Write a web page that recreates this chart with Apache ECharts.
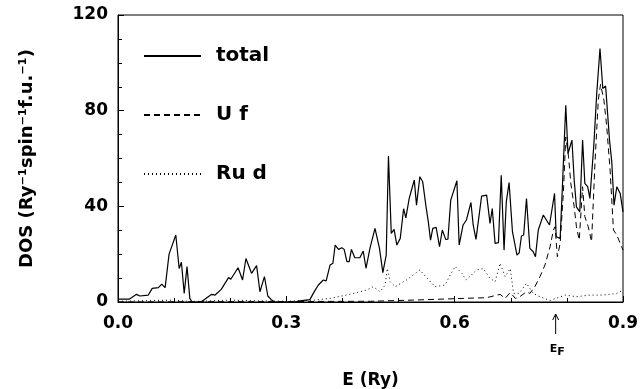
<!DOCTYPE html>
<html><head><meta charset="utf-8">
<script src="https://cdn.jsdelivr.net/npm/echarts@6/dist/echarts.min.js"></script>
<style>html,body{margin:0;padding:0;background:#fff}#c{width:641px;height:389px}</style>
</head><body><div id="c"></div>
<script>
const totalE = [0,0.02,0.033,0.039,0.054,0.061,0.072,0.078,0.084,0.091,0.103,0.109,0.113,0.118,0.123,0.128,0.132,0.148,0.167,0.173,0.184,0.197,0.201,0.214,0.222,0.228,0.238,0.247,0.253,0.261,0.267,0.274,0.279,0.315,0.324,0.342,0.348,0.357,0.366,0.371,0.378,0.383,0.387,0.393,0.399,0.403,0.408,0.412,0.416,0.422,0.431,0.437,0.442,0.449,0.458,0.466,0.472,0.478,0.482,0.487,0.492,0.497,0.503,0.509,0.513,0.519,0.528,0.532,0.538,0.543,0.549,0.553,0.557,0.561,0.567,0.573,0.578,0.584,0.588,0.593,0.604,0.608,0.615,0.621,0.624,0.629,0.633,0.638,0.648,0.657,0.663,0.667,0.672,0.678,0.683,0.688,0.692,0.697,0.703,0.711,0.715,0.719,0.723,0.728,0.734,0.740,0.744,0.749,0.758,0.769,0.778,0.781,0.788,0.792,0.798,0.802,0.809,0.813,0.817,0.823,0.828,0.832,0.837,0.841,0.848,0.853,0.859,0.864,0.869,0.876,0.880,0.884,0.889,0.895,0.9];
const totalDOS = [1.2,1.2,3.2,2.5,2.9,5.7,6.0,7.5,6.0,20,28,14,16.6,3.6,14.8,1.5,0,0,3.2,2.9,5.3,10.2,9.5,14.3,9.2,18.2,12,15.2,4.3,10.6,2.5,0.8,0,0,0.5,1,3.6,7.1,9.2,8.8,15.5,16.2,23.8,22,22.7,22,16.9,16.9,22,18.5,18.5,21.3,14.1,22.4,30.8,22.4,12.3,19.6,61,28.7,30.4,23.8,26.6,39,35.2,43.3,51,40.5,52.4,50.3,39.8,33.6,25.9,30.8,31.2,23.1,30.1,26.2,26.3,42.6,50.7,23.8,32.2,34.3,34,41.6,32.2,26.2,44.3,44.7,32.9,39.1,24.5,24.8,53,21.7,41.9,49.9,29.4,19.6,20.6,27.6,28,43.3,22.4,21,18.9,30.1,36.4,32.2,45.4,27.3,26.6,48.2,82.3,62.1,67.7,51,39.8,37.7,67.7,49.6,48.2,43.3,65.6,86.5,106,89.3,90.3,67.7,58.6,40.5,48.2,45.4,37.7];
const ufE = [0,0.45,0.526,0.615,0.657,0.681,0.690,0.699,0.708,0.716,0.728,0.734,0.743,0.752,0.761,0.770,0.776,0.779,0.783,0.788,0.794,0.798,0.803,0.807,0.813,0.817,0.822,0.828,0.832,0.838,0.844,0.850,0.856,0.860,0.866,0.871,0.877,0.883,0.889,0.895,0.9];
const ufDOS = [0,0.3,0.8,1.5,1.8,3.2,1.5,4,1.5,2.2,4.3,3.6,6.4,10.6,15.5,23.1,30.1,31.5,18.9,24.5,46.8,69,60.7,49.6,39.8,31.5,25.9,48.2,35.7,31.5,25.2,57.9,84.4,91,84.4,73.3,55.2,30.1,28,24.5,21.7];
const rudE = [0,0.1,0.13,0.2,0.25,0.3,0.35,0.378,0.413,0.443,0.455,0.467,0.476,0.480,0.485,0.494,0.514,0.538,0.550,0.565,0.583,0.592,0.601,0.613,0.620,0.627,0.639,0.651,0.663,0.672,0.681,0.690,0.699,0.705,0.715,0.728,0.740,0.752,0.770,0.780,0.797,0.817,0.841,0.865,0.889,0.9];
const rudDOS = [0.3,0.8,0.2,0.8,0.5,0.3,0.8,1.5,3.2,5,6.4,4.3,7.1,14,8.5,6.4,9.2,13.4,10.2,6.4,7.1,11.3,14.8,12,9.2,10.6,13.4,14,9.9,8.5,16.2,10.6,14,3.6,3.6,7.8,3.6,2.2,0.6,1.5,2.9,2.2,2.9,2.9,3.6,5];
const seriesNames = ['total','U f','Ru d'];
const EF = 0.78;

const zip = (a,b) => a.map((x,i)=>[x,b[i]]);
const FONT = 'DejaVu Sans';
const chart = echarts.init(document.getElementById('c'));
const lbl = {color:'#000', fontFamily:FONT, fontWeight:'bold', fontSize:17};
chart.setOption({
  animation:false,
  grid:{left:118,right:18,top:15,bottom:87,show:true,borderColor:'#000',borderWidth:1,outerBoundsMode:'none',containLabel:false},
  legend:{
    orient:'vertical', left:138, top:41, itemWidth:57, itemHeight:14, itemGap:39,
    data:seriesNames,
    itemStyle:{opacity:0},
    textStyle:{color:'#000', fontFamily:FONT, fontWeight:'bold', fontSize:20, padding:[0,0,0,10]}
  },
  xAxis:{
    type:'value', min:0, max:0.9, interval:0.3,
    name:'E (Ry)', nameLocation:'middle', nameGap:70,
    nameTextStyle:{color:'#000', fontFamily:FONT, fontWeight:'bold', fontSize:17},
    axisLine:{lineStyle:{color:'#000'}},
    axisTick:{inside:true,length:6,lineStyle:{color:'#000'}},
    minorTick:{show:true,splitNumber:3,length:4,lineStyle:{color:'#000'}},
    splitLine:{show:false},
    axisLabel:Object.assign({margin:13, formatter:v=>v.toFixed(1)}, lbl)
  },
  yAxis:{
    type:'value', min:0, max:120, interval:40,
    name:'DOS (Ry⁻¹spin⁻¹f.u.⁻¹)', nameLocation:'middle', nameGap:82,
    nameTextStyle:{color:'#000', fontFamily:FONT, fontWeight:'bold', fontSize:18},
    axisLine:{lineStyle:{color:'#000'}},
    axisTick:{inside:true,length:6,lineStyle:{color:'#000'}},
    minorTick:{show:true,splitNumber:4,length:4,lineStyle:{color:'#000'}},
    splitLine:{show:false},
    axisLabel:Object.assign({margin:10}, lbl)
  },
  series:[
    {name:seriesNames[0], type:'line', symbol:'none', data:zip(totalE,totalDOS), lineStyle:{color:'#000',width:1.2}, itemStyle:{color:'#000'}, z:3},
    {name:seriesNames[1], type:'line', symbol:'none', data:zip(ufE,ufDOS), lineStyle:{color:'#000',width:1,type:[6,4]}, itemStyle:{color:'#000'}, z:2},
    {name:seriesNames[2], type:'line', symbol:'none', data:zip(rudE,rudDOS), lineStyle:{color:'#000',width:1,type:[1,3]}, itemStyle:{color:'#000'}, z:1}
  ]
});
const p0 = chart.convertToPixel({gridIndex:0},[EF,0]);
chart.setOption({graphic:[
  {type:'line', shape:{x1:p0[0],y1:p0[1]+32,x2:p0[0],y2:p0[1]+12}, style:{stroke:'#000',lineWidth:1}},
  {type:'polyline', shape:{points:[[p0[0]-3,p0[1]+18],[p0[0],p0[1]+12],[p0[0]+3,p0[1]+18]]}, style:{stroke:'#000',lineWidth:1,fill:null}},
  {type:'text', x:p0[0]-6, y:p0[1]+39, style:{text:'{a|E}{b|F}', rich:{a:{fontFamily:FONT,fontWeight:'bold',fontSize:11,fill:'#000'},b:{fontFamily:FONT,fontWeight:'bold',fontSize:11,fill:'#000',verticalAlign:'bottom',padding:[6,0,0,0]}}}}
]});
</script></body></html>
